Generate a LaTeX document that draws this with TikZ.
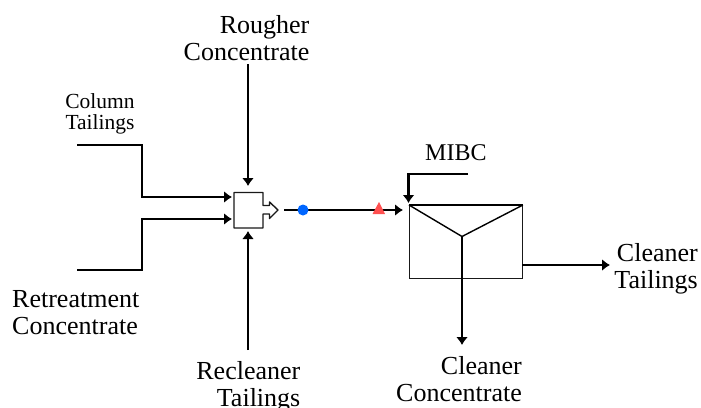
\documentclass[tikz,border=0pt]{standalone}
\usepackage{fontspec}
\setmainfont{Liberation Serif}
\usetikzlibrary{arrows.meta}
\tikzset{
 flow/.style={line width=2.3pt,-{Latex[length=8pt,width=12pt]},line join=miter},
 thin box/.style={draw=black!90,line width=1.4pt},
 label big/.style={inner sep=0pt,font=\fontsize{26}{27}\selectfont},
 label small/.style={inner sep=0pt,font=\fontsize{21.5}{21}\selectfont,align=center}
}
\begin{document}
\begin{tikzpicture}[x=1pt,y=-1pt]
\useasboundingbox (0,0) rectangle (701,407);
% text
\node[label big,align=right,anchor=north east] (rc) at (309.5,15.5) {Rougher\\Concentrate};
\node[label small,anchor=north] (ct) at (100,93) {Column\\Tailings};
\node[label big,align=left,anchor=north west] (rt) at (12,290.5) {Retreatment\\Concentrate};
\node[label big,align=right,anchor=north east] (rl) at (300.5,361) {Recleaner\\Tailings};
\node[inner sep=0pt,font=\fontsize{24}{27}\selectfont,anchor=north west] (mibc) at (425,144.5) {MIBC};
\node[label big,align=right,anchor=north east] (cc) at (522,356.5) {Cleaner\\Concentrate};
\node[label big,align=right,anchor=north east] (clt) at (698,243.5) {Cleaner\\Tailings};
% mixer
\draw[thin box,line join=round] (234,192.5) -- (263,192.5) -- (263,205.5) -- (269.5,205.5) -- (269.5,202) -- (278,210) -- (269.5,218.5) -- (269.5,214) -- (263,214) -- (263,228) -- (234,228) -- cycle;
\coordinate (mixW1) at (232,197);
\coordinate (mixW2) at (232,219);
\coordinate (mixN) at (248,186);
\coordinate (mixS) at (248,231);
\coordinate (mixE) at (284,210);
% cell
\node[thin box,minimum width=112.5pt,minimum height=72.5pt,inner sep=0pt,anchor=north west] (cell) at (409,205) {};
\draw[line width=1.4pt] (cell.north west) -- (462,236.5) -- (cell.north east);
\draw[line width=2pt] (cell.north west) -- (cell.north east);
\coordinate (apex) at (462,236.5);
\coordinate (feed) at (403,210);
\coordinate (mibcin) at (408.5,203);
% free ends
\coordinate (a1) at (77,145);
\coordinate (a2) at (77,270);
\coordinate (a3) at (248,64);
\coordinate (a4) at (248,350);
\coordinate (a5) at (468,174);
\coordinate (a6) at (610,265);
\coordinate (a7) at (462,345);
\coordinate (a8) at (522,265);
% flows
\draw[flow] (a1) -- (142,145) -- (142,197) -- (mixW1);
\draw[flow] (a2) -- (142,270) -- (142,219) -- (mixW2);
\draw[flow] (a3) -- (mixN);
\draw[flow] (a4) -- (mixS);
\draw[flow] (mixE) -- (feed);
\draw[flow] (a5) -- (408.5,174) -- (mibcin);
\draw[flow] (apex) -- (a7);
\draw[flow] (a8) -- (a6);
% markers
\node[circle,fill={rgb,255:red,0;green,102;blue,255},minimum size=11pt,inner sep=0pt] (dot) at (303,210) {};
\fill[fill={rgb,255:red,255;green,80;blue,80}] (372.5,214) -- (379,202) -- (385,214) -- cycle;
\end{tikzpicture}
\end{document}
